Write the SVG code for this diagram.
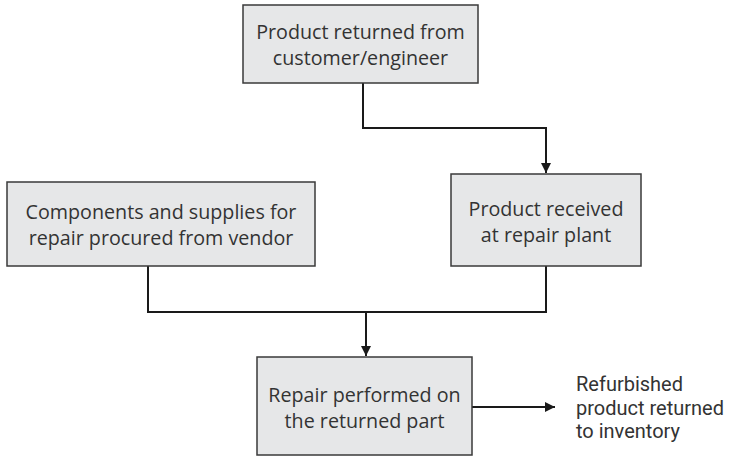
<svg xmlns="http://www.w3.org/2000/svg" width="738" height="457" viewBox="0 0 738 457">
<style>
.box{fill:#e6e7e8;stroke:#3a3a3a;stroke-width:1.5}
.t{font-family:"Open Sans","Liberation Sans",sans-serif;font-size:19.7px;fill:#333;text-anchor:middle}
.o{font-family:Roboto,"Open Sans",sans-serif;font-size:20px;fill:#333}
.c{fill:none;stroke:#1a1a1a;stroke-width:2}
</style>
<defs>
<marker id="a" viewBox="0 0 10 10" refX="10" refY="5" markerWidth="5" markerHeight="5" markerUnits="strokeWidth" orient="auto">
<path d="M0,0 L10,5 L0,10 z" fill="#1a1a1a"/>
</marker>
</defs>
<rect width="738" height="457" fill="#fff"/>
<g id="connectors">
<path class="c" d="M363,83 V128 H546 V173" marker-end="url(#a)"/>
<path class="c" d="M148,266 V312 H546 V266"/>
<path class="c" d="M366,312 V356" marker-end="url(#a)"/>
<path class="c" d="M472,407 H555" marker-end="url(#a)"/>
</g>
<g id="n1">
<rect class="box" x="243" y="5" width="235" height="78"/>
<text class="t" x="360.5" y="39">Product returned from<tspan x="360.5" dy="26">customer/engineer</tspan></text>
</g>
<g id="n2">
<rect class="box" x="7" y="182" width="308" height="84"/>
<text class="t" x="161" y="219">Components and supplies for<tspan x="161" dy="26">repair procured from vendor</tspan></text>
</g>
<g id="n3">
<rect class="box" x="451" y="174" width="190" height="92"/>
<text class="t" x="546" y="216">Product received<tspan x="546" dy="26">at repair plant</tspan></text>
</g>
<g id="n4">
<rect class="box" x="257" y="357" width="215" height="98"/>
<text class="t" x="364.5" y="402">Repair performed on<tspan x="364.5" dy="26">the returned part</tspan></text>
</g>
<g id="out">
<text class="o" x="576" y="391">Refurbished<tspan x="576" dy="23.5">product returned</tspan><tspan x="576" dy="23.5">to inventory</tspan></text>
</g>
</svg>
